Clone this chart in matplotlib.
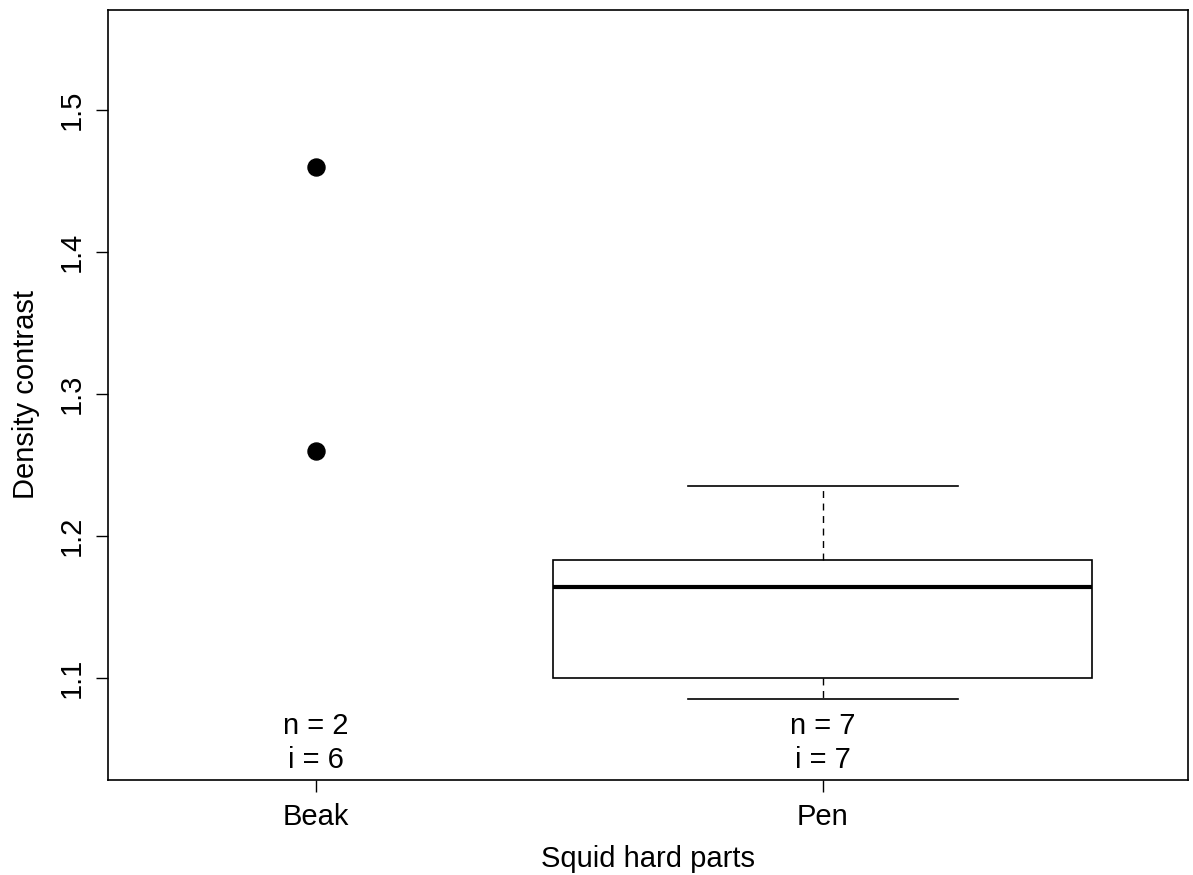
import numpy as np
import matplotlib
matplotlib.use('Agg')
from matplotlib import pyplot as plt

plt.rcParams['font.family'] = ['Liberation Sans', 'DejaVu Sans']

# data
groups = ['Beak', 'Pen']
beak_points = [1.46, 1.26]
pen_stats = {'whislo': 1.085, 'q1': 1.100, 'med': 1.164, 'q3': 1.183, 'whishi': 1.235}
n_labels = ['n = 2', 'n = 7']
i_labels = ['i = 6', 'i = 7']

fs = 21

fig = plt.figure(figsize=(11.93, 8.75), dpi=100)
ax = fig.add_axes([0.0905, 0.1086, 0.9053, 0.880])

# Beak: only points
ax.scatter([1] * len(beak_points), beak_points, s=150, color='black', zorder=3)

# Pen: R-style boxplot
st = dict(pen_stats, label='Pen', fliers=[])
ax.bxp([st], positions=[2], widths=1.063, showfliers=False, patch_artist=True,
       boxprops=dict(facecolor='white', edgecolor='black', linewidth=1.2),
       medianprops=dict(color='black', linewidth=3),
       whiskerprops=dict(color='black', linewidth=1, linestyle=(0, (5, 4))),
       capprops=dict(color='black', linewidth=1.2),
       capwidths=0.532)

# sample sizes under each group
for k in range(len(groups)):
    ax.text(k + 1, 1.0606, n_labels[k], ha='center', va='baseline', fontsize=fs)
    ax.text(k + 1, 1.0366, i_labels[k], ha='center', va='baseline', fontsize=fs)

ax.set_xlim(0.59, 2.72)
ax.set_ylim(1.0282, 1.5704)
ax.set_xticks([1, 2])
ax.set_xticklabels(groups, fontsize=fs)
ax.set_yticks([1.1, 1.2, 1.3, 1.4, 1.5])
ax.set_yticklabels(['1.1', '1.2', '1.3', '1.4', '1.5'], fontsize=fs, rotation=90, va='center')
ax.tick_params(direction='out', length=8.5, width=1)
ax.tick_params(axis='x', pad=8)
ax.tick_params(axis='y', pad=7.5)
ax.set_xlabel('Squid hard parts', fontsize=fs, labelpad=10.5)
ax.set_ylabel('Density contrast', fontsize=fs, labelpad=12.5)
for s in ax.spines.values():
    s.set_linewidth(1.2)

plt.savefig('out.png', dpi=100)
